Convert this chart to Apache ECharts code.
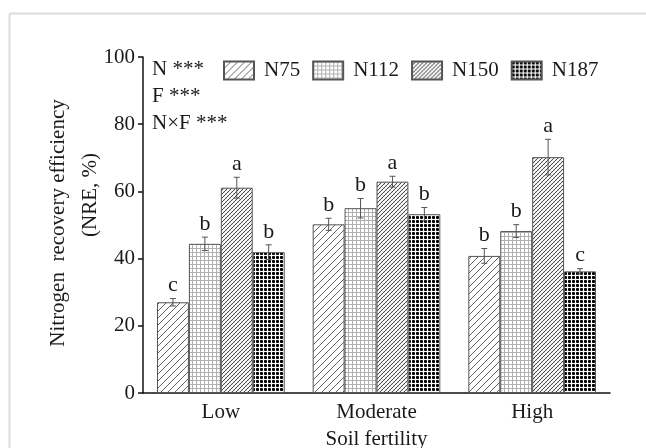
<!DOCTYPE html>
<html>
<head>
<meta charset="utf-8">
<script src="https://cdn.jsdelivr.net/npm/echarts@6/dist/echarts.min.js"></script>
<style>
html,body{margin:0;padding:0;background:#fff;}
#chart{width:646px;height:448px;}
</style>
</head>
<body>
<div id="chart"></div>
<script>
// ---- data ----
var categories = ['Low', 'Moderate', 'High'];
var seriesNames = ['N75', 'N112', 'N150', 'N187'];
var n75 = [27.0, 50.2, 40.8];
var n112 = [44.4, 55.0, 48.2];
var n150 = [61.1, 62.9, 70.2];
var n187 = [41.9, 53.2, 36.2];
var n75Err = [1.1, 1.8, 2.2];
var n112Err = [2.0, 2.9, 1.9];
var n150Err = [3.1, 1.6, 5.3];
var n187Err = [2.2, 2.0, 0.8];
var n75Letters = ['c', 'b', 'b'];
var n112Letters = ['b', 'b', 'b'];
var n150Letters = ['a', 'a', 'a'];
var n187Letters = ['b', 'b', 'c'];
var statLines = ['N ***', 'F ***', 'N\u00d7F ***'];
var yTicks = [0, 20, 40, 60, 80, 100];

var values = [n75, n112, n150, n187];
var errs = [n75Err, n112Err, n150Err, n187Err];
var letters = [n75Letters, n112Letters, n150Letters, n187Letters];

var FONT = "'Liberation Serif', 'Times New Roman', serif";
var TXT = '#1a1a1a';

// ---- patterns ----
function tile(size, draw) {
  var c = document.createElement('canvas');
  c.width = size; c.height = size;
  var ctx = c.getContext('2d');
  ctx.fillStyle = '#fff';
  ctx.fillRect(0, 0, size, size);
  draw(ctx, size);
  return { image: c, repeat: 'repeat' };
}
function diagLines(ctx, s, color, w, back) {
  ctx.strokeStyle = color; ctx.lineWidth = w;
  ctx.beginPath();
  if (!back) {
    ctx.moveTo(-1, s + 1); ctx.lineTo(s + 1, -1);
    ctx.moveTo(-1, 1); ctx.lineTo(1, -1);
    ctx.moveTo(s - 1, s + 1); ctx.lineTo(s + 1, s - 1);
  } else {
    ctx.moveTo(-1, -1); ctx.lineTo(s + 1, s + 1);
    ctx.moveTo(s - 1, -1); ctx.lineTo(s + 1, 1);
    ctx.moveTo(-1, s - 1); ctx.lineTo(1, s + 1);
  }
  ctx.stroke();
}
var patterns = [
  tile(7, function (ctx, s) { diagLines(ctx, s, '#555', 0.9, false); }),
  tile(4, function (ctx, s) {
    ctx.fillStyle = '#b0b0b0';
    ctx.fillRect(0, 0, s, 1);
    ctx.fillRect(0, 0, 1, s);
  }),
  tile(4, function (ctx, s) {
    diagLines(ctx, s, '#c8c8c8', 0.7, true);
    diagLines(ctx, s, '#333', 0.9, false);
  }),
  tile(4, function (ctx, s) {
    ctx.fillStyle = '#000';
    ctx.fillRect(1, 0, 1, 3);
    ctx.fillRect(0, 1, 3, 1);
    ctx.fillStyle = '#333';
    ctx.fillRect(0, 0, 1, 1); ctx.fillRect(2, 0, 1, 1);
    ctx.fillRect(0, 2, 1, 1); ctx.fillRect(2, 2, 1, 1);
  })
];

var CAT_GAP = 0.18;

var series = seriesNames.map(function (name, i) {
  return {
    name: name,
    type: 'bar',
    data: values[i],
    barGap: '0%',
    barCategoryGap: (CAT_GAP * 100) + '%',
    itemStyle: { color: patterns[i], borderColor: '#555', borderWidth: 1 },
    emphasis: { disabled: true }
  };
});

var errData = [];
for (var s = 0; s < 4; s++) {
  for (var c = 0; c < categories.length; c++) {
    errData.push([c, values[s][c] - errs[s][c], values[s][c] + errs[s][c], s, letters[s][c]]);
  }
}

series.push({
  type: 'custom',
  name: 'err',
  data: errData,
  encode: { x: 0, y: [1, 2] },
  z: 10,
  silent: true,
  renderItem: function (params, api) {
    var ci = api.value(0);
    var si = api.value(3);
    var letter = errData[params.dataIndex][4];
    var band = api.size([1, 0])[0];
    var bw = band * (1 - CAT_GAP) / 4;
    var cx = api.coord([ci, 0])[0] + (si - 1.5) * bw;
    var lo = api.coord([ci, api.value(1)])[1];
    var hi = api.coord([ci, api.value(2)])[1];
    var cap = 3;
    var st = { stroke: '#555', lineWidth: 1, fill: null };
    return {
      type: 'group',
      children: [
        { type: 'line', shape: { x1: cx, y1: lo, x2: cx, y2: hi }, style: st },
        { type: 'line', shape: { x1: cx - cap, y1: hi, x2: cx + cap, y2: hi }, style: st },
        { type: 'line', shape: { x1: cx - cap, y1: lo, x2: cx + cap, y2: lo }, style: st },
        { type: 'text', x: cx, y: hi - 2, style: { text: letter, font: '22px ' + FONT, fill: TXT, textAlign: 'center', textVerticalAlign: 'bottom' } }
      ]
    };
  }
});

var graphics = [
  { type: 'line', shape: { x1: 9.5, y1: 13.5, x2: 646, y2: 13.5 }, style: { stroke: '#dcdcdc', lineWidth: 2 } },
  { type: 'line', shape: { x1: 9.5, y1: 13.5, x2: 9.5, y2: 448 }, style: { stroke: '#dcdcdc', lineWidth: 2 } },
  { type: 'text', x: 58, y: 223, rotation: Math.PI / 2, style: { text: 'Nitrogen  recovery efficiency', font: '21px ' + FONT, fill: TXT, textAlign: 'center', textVerticalAlign: 'middle' } },
  { type: 'text', x: 90, y: 195, rotation: Math.PI / 2, style: { text: '(NRE, %)', font: '21px ' + FONT, fill: TXT, textAlign: 'center', textVerticalAlign: 'middle' } }
];
statLines.forEach(function (t, i) {
  graphics.push({ type: 'text', left: 152, top: 59 + i * 27, style: { text: t, font: '21px ' + FONT, fill: TXT } });
});

var chart = echarts.init(document.getElementById('chart'), null, { renderer: 'canvas' });
chart.setOption({
  animation: false,
  backgroundColor: '#fff',
  grid: { left: 143, right: 36, top: 57, bottom: 55, containLabel: false, outerBoundsMode: 'none' },
  legend: {
    data: seriesNames,
    left: 223, top: 60,
    padding: 0,
    icon: 'rect',
    itemWidth: 30, itemHeight: 18,
    itemGap: 12,
    selectedMode: false,
    textStyle: { fontFamily: FONT, fontSize: 21, color: TXT, padding: [0, 0, 0, 5] }
  },
  xAxis: {
    type: 'category',
    data: categories,
    name: 'Soil fertility',
    nameLocation: 'middle',
    nameGap: 36,
    nameTextStyle: { fontFamily: FONT, fontSize: 21, color: TXT },
    axisLine: { lineStyle: { color: '#111', width: 1.5 } },
    axisTick: { show: false },
    axisLabel: { fontFamily: FONT, fontSize: 21, color: TXT, margin: 9 }
  },
  yAxis: {
    type: 'value',
    min: yTicks[0], max: yTicks[yTicks.length - 1], interval: 20,
    axisLine: { show: true, lineStyle: { color: '#111', width: 1.5 } },
    axisTick: { show: true, inside: false, length: 5, lineStyle: { color: '#111', width: 1.5 } },
    splitLine: { show: false },
    axisLabel: { fontFamily: FONT, fontSize: 21, color: TXT, margin: 8 }
  },
  graphic: graphics,
  series: series
});
</script>
</body>
</html>
